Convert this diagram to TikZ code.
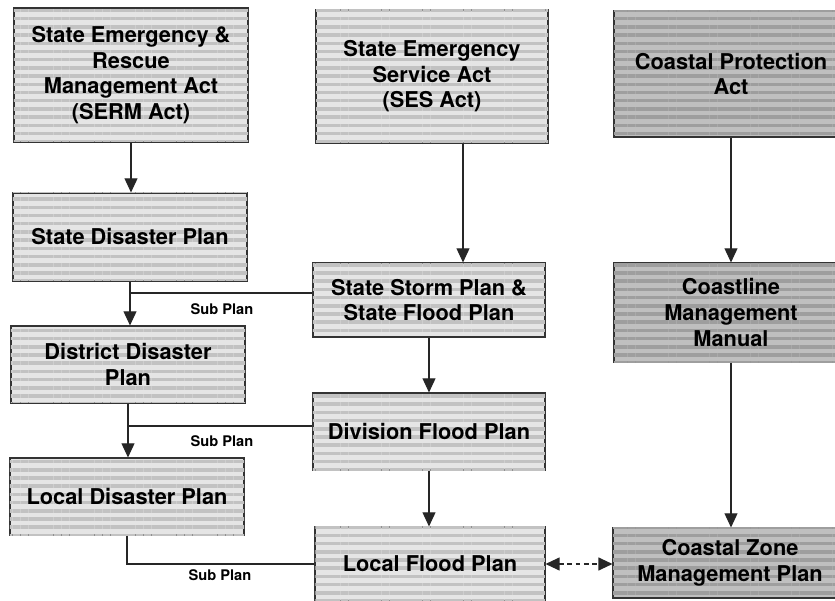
\documentclass[tikz,border=0pt]{standalone}
\usepackage{fontspec}
\setsansfont{TeX Gyre Heros}
\usetikzlibrary{arrows.meta}
\usetikzlibrary{patterns.meta}

\tikzset{
  box/.style={draw=black!80, line width=0.9pt, fill=black!10,
    postaction={pattern={Lines[distance=7pt, angle=0, line width=3pt]}, pattern color=black!24},
    align=center, font=\sffamily\bfseries\fontsize{18.6}{21.8}\selectfont,
    minimum width=7.02cm, inner sep=0pt},
  darkbox/.style={box, fill=black!25,
    postaction={pattern={Lines[distance=7pt, angle=0, line width=3pt]}, pattern color=black!38}},
  subplan/.style={font=\sffamily\bfseries\fontsize{12.5}{14}\selectfont},
  arr/.style={-{Triangle[width=11pt,length=12pt]}, line width=0.9pt, black!85},
  link/.style={line width=0.9pt, black!85}
}

\begin{document}
\begin{tikzpicture}[x=0.03cm, y=-0.03cm]
				\clip (0,0) rectangle (835,601);
				\fill[white] (0,0) rectangle (835,601);
				% left column
				\node[box, minimum height=4.02cm] (serm) at (131,75) {State Emergency \&\\Rescue\\Management Act\\(SERM Act)};
				\node[box, minimum height=2.64cm] (sdp) at (130,237) {State Disaster Plan};
				\node[box, minimum height=2.31cm] (ddp) at (128,364.5) {District Disaster\\Plan};
				\node[box, minimum height=2.31cm] (ldp) at (127,496.5) {Local Disaster Plan};
				% middle column
				\node[box, minimum width=6.96cm, minimum height=3.99cm] (ses) at (432,76.5) {State Emergency\\Service Act\\(SES Act)};
				\node[box, minimum width=6.96cm, minimum height=2.22cm] (ssp) at (429,300) {State Storm Plan \&\\State Flood Plan};
				\node[box, minimum width=6.96cm, minimum height=2.31cm] (dfp) at (429,431.5) {Division Flood Plan};
				\node[box, minimum width=6.9cm, minimum height=2.22cm] (lfp) at (430,564) {Local Flood Plan};
				% right column
				\node[darkbox, minimum height=3.78cm] (cpa) at (731,74) {Coastal Protection\\Act};
				\node[darkbox, minimum height=2.97cm] (cmm) at (731,312.5) {Coastline\\Management\\Manual};
				\node[darkbox, minimum height=2.1cm] (czmp) at (730,563) {Coastal Zone\\Management Plan};

				\draw[arr] (serm.south) -- (serm.south |- sdp.north);
				\draw[arr] (sdp.south) -- (sdp.south |- ddp.north);
				\draw[arr] (ddp.south) -- (ddp.south |- ldp.north);
				\draw[arr] (463,0 |- ses.south) -- (463,0 |- ssp.north);
				\draw[arr] (ssp.south) -- (ssp.south |- dfp.north);
				\draw[arr] (dfp.south) -- (dfp.south |- lfp.north);
				\draw[arr] (cpa.south) -- (cpa.south |- cmm.north);
				\draw[arr] (cmm.south) -- (cmm.south |- czmp.north);
				\draw[arr, {Triangle[width=11pt,length=12pt]}-{Triangle[width=11pt,length=12pt]}, line width=1.3pt, dash pattern=on 4pt off 3pt] (lfp.east) -- (lfp.east -| czmp.west);

				% sub plan links
				\coordinate (s1) at (130,293);
				\coordinate (s2) at (128,426);
				\draw[link] (s1) -- (s1 -| ssp.west);
				\draw[link] (s2) -- (s2 -| dfp.west);
				\draw[link] (ldp.south) |- (lfp.west);
				\node[subplan] (sub1) at (222,309) {Sub Plan};
				\node[subplan] (sub2) at (222,441) {Sub Plan};
				\node[subplan] (sub3) at (220,575) {Sub Plan};
			\end{tikzpicture}
\end{document}
